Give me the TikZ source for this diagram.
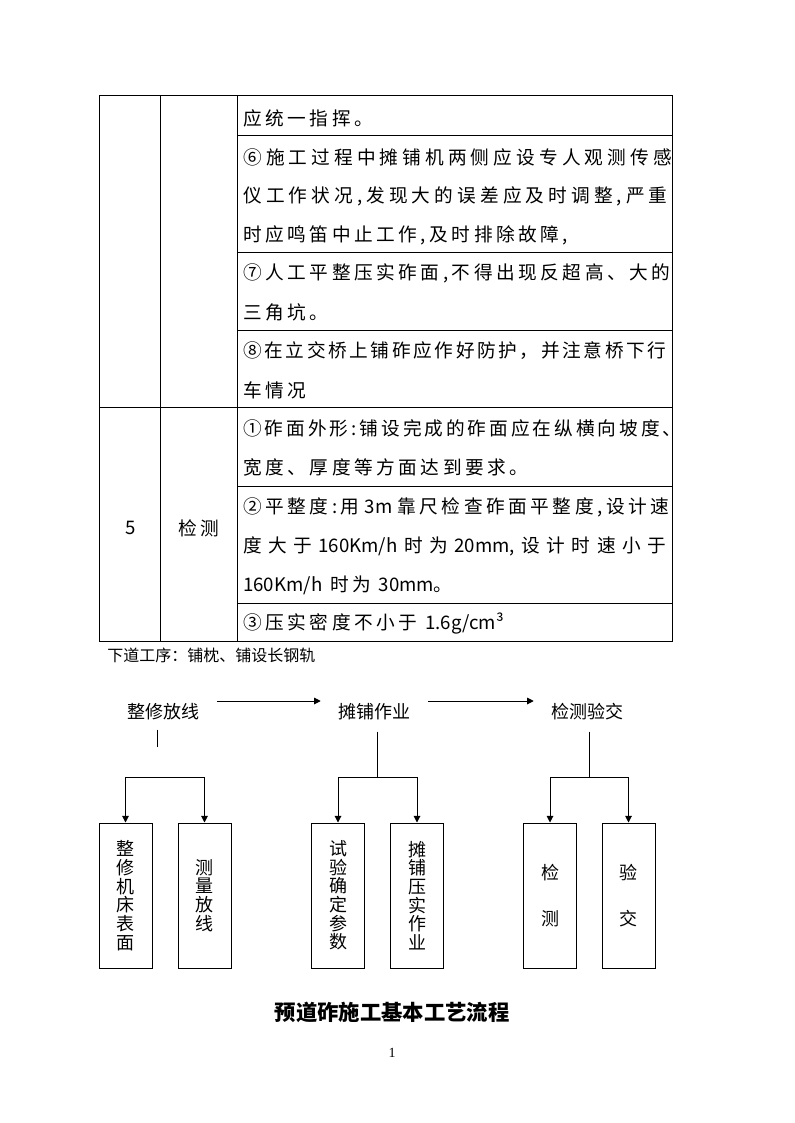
\documentclass[tikz,border=0pt]{standalone}
\usepackage{fontspec}
\setmainfont{Liberation Serif}
\newfontfamily\cjk{Noto Sans CJK SC}
\newfontfamily\cjksp{Noto Sans CJK SC}[LetterSpace=19]
\newfontfamily\cjkn{Noto Sans CJK SC}[LetterSpace=14]
\newfontfamily\cjkm{Noto Sans CJK SC}[LetterSpace=16]
\newfontfamily\cjkw{Noto Sans CJK SC}[LetterSpace=22]
\newcommand\lat[1]{{\cjk #1}}
\usetikzlibrary{arrows.meta}
\tikzset{
  tl/.style={font=\cjksp\fontsize{14pt}{16pt}\selectfont, inner sep=0pt, anchor=west},
  tlv/.style={tl, font={#1\fontsize{14pt}{16pt}\selectfont}},
  hd/.style={font=\cjk\fontsize{13.5pt}{16pt}\selectfont, inner sep=0pt},
  box/.style={draw, line width=0.75pt, minimum width=39.75pt, minimum height=108.75pt, inner sep=0pt, align=center, font=\cjk\fontsize{13.5pt}{14pt}\selectfont},
  arr/.style={line width=0.75pt, -{Triangle[length=5pt,width=5pt]}},
  ln/.style={line width=0.75pt},
}
\begin{document}
\begin{tikzpicture}[x=0.75pt,y=-0.75pt]
\useasboundingbox (0,0) rectangle (794,1123);
% table
\draw[ln] (99,96) rectangle (672,641);
\draw[ln] (160,96) -- (160,641) (237,96) -- (237,641);
\draw[ln] (237,136) -- (672,136) (237,252) -- (672,252) (237,330) -- (672,330)
  (99,407) -- (672,407) (237,486) -- (672,486) (237,603) -- (672,603);
\node[tl] (t1) at (243,118) {应统一指挥。};
\node[tlv=\cjkw] (t2) at (243,157) {⑥施工过程中摊铺机两侧应设专人观测传感};
\node[tlv=\cjkw] (t3) at (243,196) {仪工作状况,发现大的误差应及时调整,严重};
\node[tl] (t4) at (243,235) {时应鸣笛中止工作,及时排除故障,};
\node[tl] (t5) at (243,273) {⑦人工平整压实砟面,不得出现反超高、大的};
\node[tl] (t6) at (243,312) {三角坑。};
\node[tlv=\cjkn] (t7) at (243,351) {⑧在立交桥上铺砟应作好防护，并注意桥下行};
\node[tl] (t8) at (243,390) {车情况};
\node[tlv=\cjkm] (t9) at (243,428) {①砟面外形:铺设完成的砟面应在纵横向坡度、};
\node[tl] (t10) at (243,467) {宽度、厚度等方面达到要求。};
\node[tl] (t11) at (243,507) {\makebox[317pt][s]{②平整度:用 \lat{3m} 靠尺检查砟面平整度,设计速}};
\node[tlv=\cjk] (t12) at (243,546) {\makebox[317pt][s]{度 大 于 160Km/h 时 为 20mm, 设 计 时 速 小 于}};
\node[tl] (t13) at (243,585) {\lat{160Km/h} 时为 \lat{30mm}。};
\node[tl] (t14) at (243,624) {③压实密度不小于 \lat{1.6g/cm³}};
\node[tl, anchor=center] (n5) at (131,528) {5};
\node[tl, anchor=center] (jc) at (199,528) {检测};
\node[font=\cjk\fontsize{12pt}{14pt}\selectfont, inner sep=0pt, anchor=west] (next) at (107,655) {下道工序：铺枕、铺设长钢轨};
% flow chart
\node[hd] (h1) at (163,712) {整修放线};
\node[hd] (h2) at (374,712) {摊铺作业};
\node[hd] (h3) at (587,712) {检测验交};
\draw[arr] ([shift={(18,-11)}]h1.east) -- ([shift={(-17,-11)}]h2.west);
\draw[arr] ([shift={(18,-11)}]h2.east) -- ([shift={(-17,-11)}]h3.west);
\node[box] (b1) at (125.5,895.5) {整\\修\\机\\床\\表\\面};
\node[box] (b2) at (204.5,895.5) {测\\量\\放\\线};
\node[box] (b3) at (338,895.5) {试\\验\\确\\定\\参\\数};
\node[box] (b4) at (417,895.5) {摊\\铺\\压\\实\\作\\业};
\node[box] (b5) at (550,895.5) {检\\[21pt]测};
\node[box] (b6) at (628.5,895.5) {验\\[21pt]交};
\coordinate (j1) at (165,777);
\coordinate (j2) at (377.5,777);
\coordinate (j3) at (589,777);
\path (h1.south) ++(-6,9) coordinate (s1);
\path (h2.south) ++(0,11) coordinate (s2);
\path (h3.south) ++(0,11) coordinate (s3);
\draw[ln] (s1) -- ++(0,17);
\draw[ln] (s2 -| j2) -- (j2);
\draw[ln] (s3 -| j3) -- (j3);
\draw[arr] (j1) -| (b1);
\draw[arr] (j1) -| (b2);
\draw[arr] (j2) -| (b3);
\draw[arr] (j2) -| (b4);
\draw[arr] (j3) -| (b5);
\draw[arr] (j3) -| (b6);
\node[font=\cjk\bfseries\fontsize{16pt}{18pt}\selectfont, inner sep=0pt] (title) at (392,1012) {预道砟施工基本工艺流程};
\node[font=\fontsize{10.5pt}{12pt}\selectfont, inner sep=0pt] (pg) at (392,1053) {1};
\end{tikzpicture}
\end{document}
